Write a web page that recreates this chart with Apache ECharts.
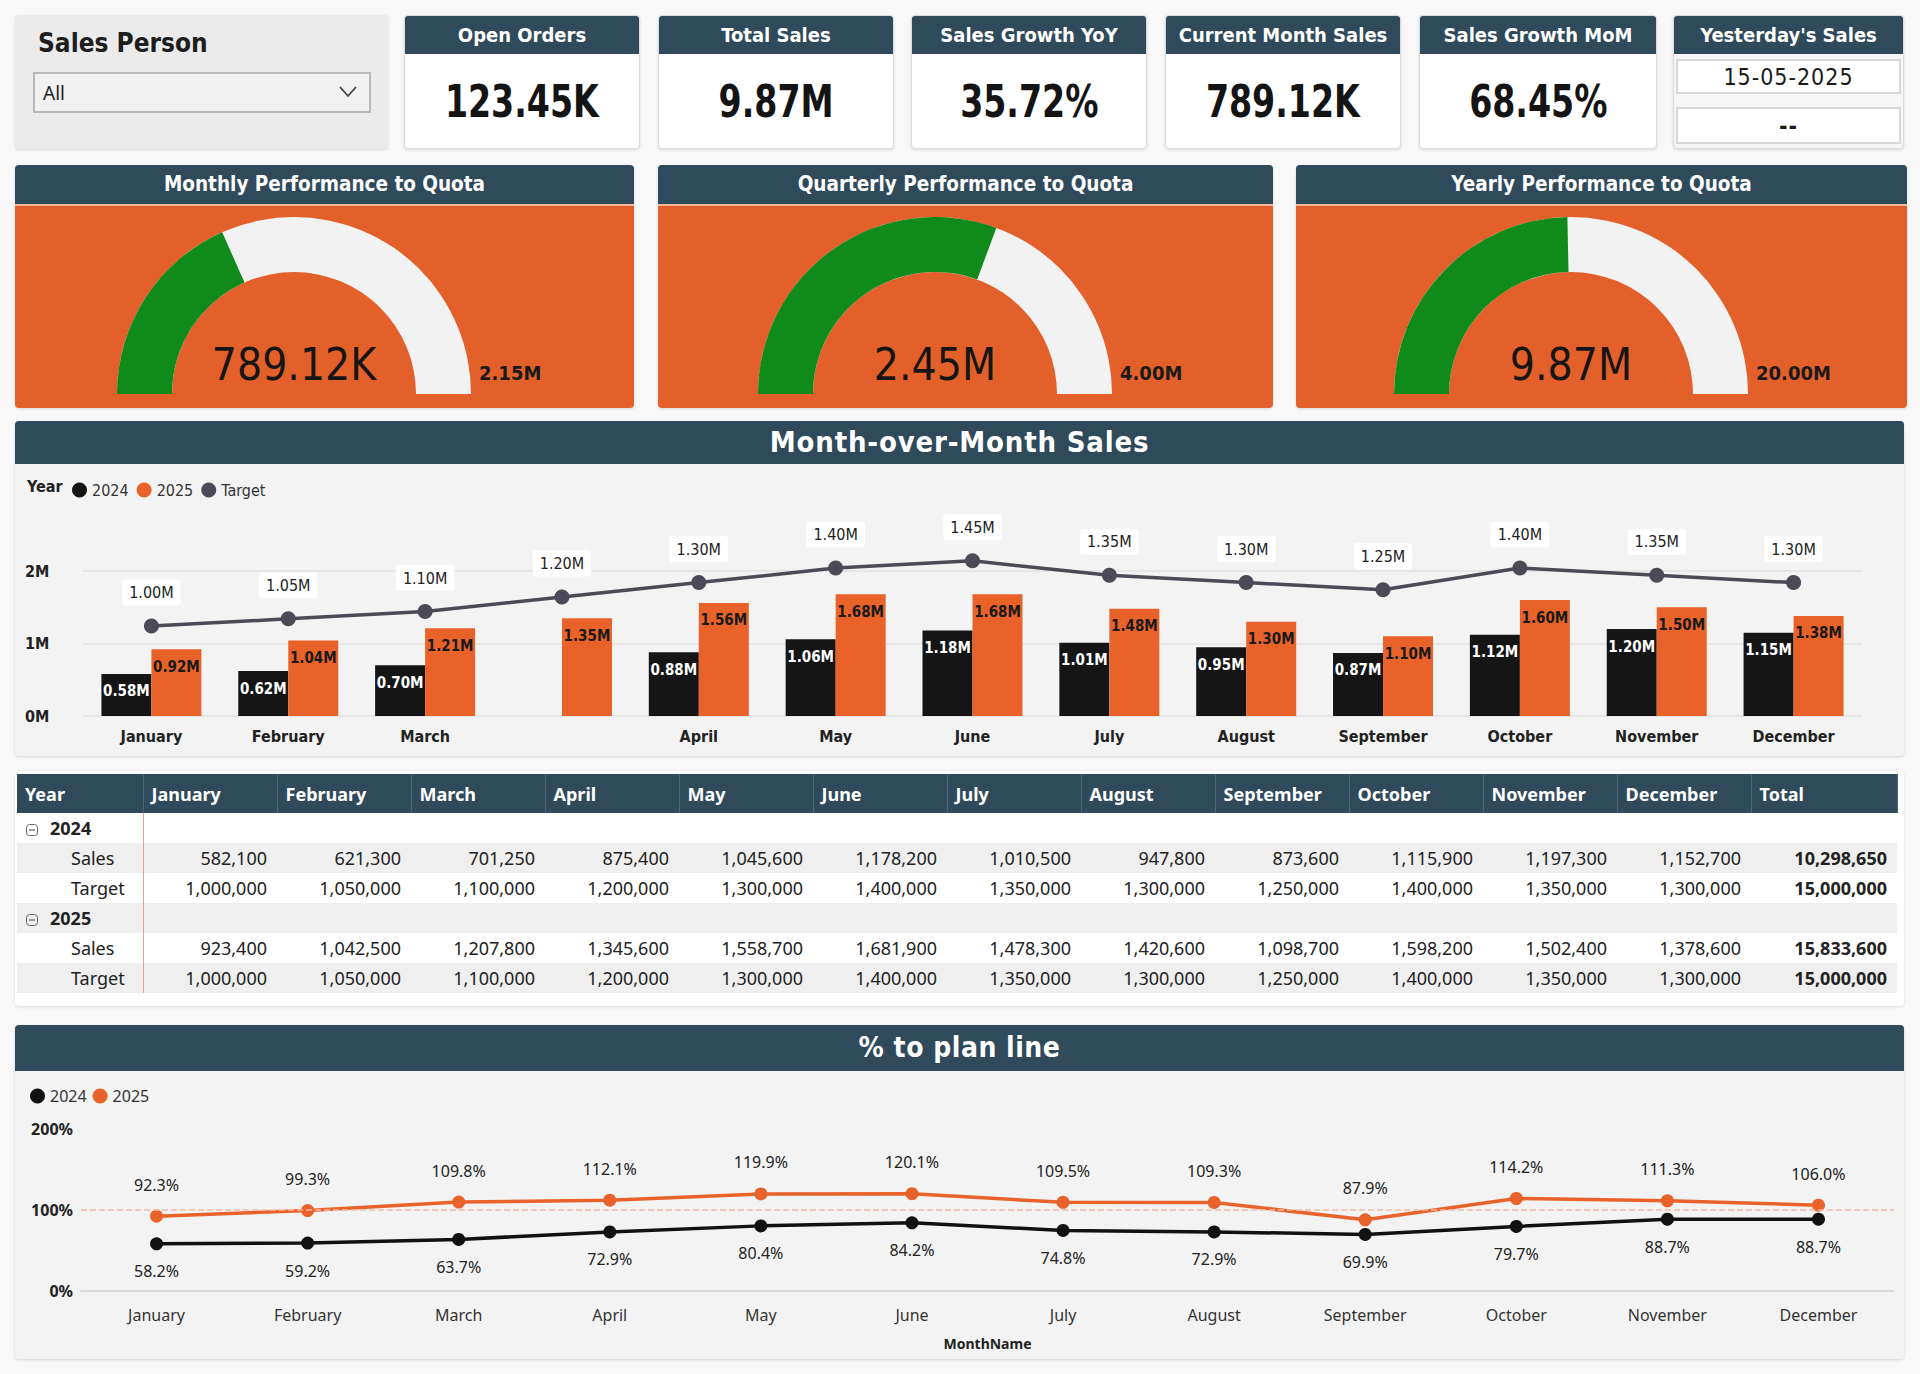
<!DOCTYPE html>
<html>
<head>
<meta charset="utf-8">
<title>Sales Dashboard</title>
<script src="https://cdn.jsdelivr.net/npm/echarts@6.0.0/dist/echarts.min.js"></script>
<style>
  html, body { margin: 0; padding: 0; }
  body { width: 1920px; height: 1374px; background: #F8F8F8; position: relative; overflow: hidden;
         font-family: 'DejaVu Sans Condensed', sans-serif; }
  .abs { position: absolute; box-sizing: border-box; }
  .card { background: #fff; border: 1px solid #DCDCDC; border-radius: 4px; box-shadow: 0 1px 3px rgba(0,0,0,0.12); overflow: hidden; }
  .hdr { background: #2F4A5B; color: #fff; font-weight: bold; text-align: center; white-space: nowrap; }
  .kpi-hdr { height: 38px; line-height: 38px; font-size: 20px; }
  .kpi-val { text-align: center; line-height: 96px; }
  .kpi-val span { display: inline-block; font-size: 45px; font-weight: bold; color: #141414; transform: scaleX(0.82); }
  .slicer { background: #EBEBEB; border-radius: 4px; box-shadow: 0 1px 3px rgba(0,0,0,0.12); }
  .slicer-title { position: absolute; left: 23px; top: 13px; font-size: 26px; font-weight: bold; color: #1E1E1E; }
  .dropdown { position: absolute; left: 18px; top: 57px; width: 338px; height: 41px; background: #F1F1F1;
              border: 2px solid #B9B9B9; box-sizing: border-box; font-family: 'Noto Sans', sans-serif; font-size: 19px; color: #222; }
  .dropdown span { position: absolute; left: 8px; top: 6px; }
  .dropdown svg { position: absolute; right: 12px; top: 11px; }
  .ybox { background: #fff; border: 2px solid #D8D8D8; text-align: center; font-size: 23px; color: #1a1a1a; letter-spacing: 1px; }
  .panel { background: #F3F3F3; border-radius: 4px; box-shadow: 0 1px 3px rgba(0,0,0,0.14); overflow: hidden; }
  .gauge-body { background: #E3602B; }
  table { border-collapse: collapse; table-layout: fixed; font-family: 'Noto Sans', 'Open Sans', sans-serif; font-size: 18px; color: #222; }
  th { background: #2F4A5B; color: #fff; font-weight: bold; text-align: left; padding: 0 0 0 8px; height: 39px;
       border-right: 1px solid #4C6676; font-size: 18px; }
  td { height: 30px; padding: 0 10px 0 0; text-align: right; white-space: nowrap; }
  td.rh { text-align: left; padding: 0; }
  td.sep { border-left: 1px solid #E9A27F; }
  .tot { font-weight: bold; }
</style>
</head>
<body>
<div class="abs slicer" style="left:15px;top:15px;width:373px;height:134px">
  <div class="slicer-title">Sales Person</div>
  <div class="dropdown"><span>All</span>
    <svg width="18" height="14" viewBox="0 0 18 14"><polyline points="1,2 9,11 17,2" fill="none" stroke="#444" stroke-width="1.8"/></svg>
  </div>
</div>
<div id="kpis"></div>
<div id="gauges"></div>

<div class="abs panel" style="left:15px;top:421px;width:1889px;height:335px">
  <div class="hdr" style="height:43px;line-height:43px;font-size:29px;letter-spacing:0.8px">Month-over-Month Sales</div>
  <div id="barChart" style="width:1889px;height:292px"></div>
</div>

<div class="abs card" style="left:15px;top:771px;width:1889px;height:235px;padding:3px 0 0 2px;border:none">
  <table id="tbl"></table>
</div>

<div class="abs panel" style="left:15px;top:1025px;width:1889px;height:334px">
  <div class="hdr" style="height:46px;line-height:46px;font-size:28px;letter-spacing:0.5px">% to plan line</div>
  <div id="lineChart" style="width:1889px;height:288px"></div>
</div>

<script>
// ---- KPI cards ----
const kpiTitles = ['Open Orders', 'Total Sales', 'Sales Growth YoY', 'Current Month Sales', 'Sales Growth MoM'];
const kpiValues = ['123.45K', '9.87M', '35.72%', '789.12K', '68.45%'];
const yesterdayTitle = "Yesterday's Sales";
const yesterdayDate = '15-05-2025';
const yesterdayValue = '--';

// ---- gauges ----
const gaugeTitles = ['Monthly Performance to Quota', 'Quarterly Performance to Quota', 'Yearly Performance to Quota'];
const gaugeValues = [789120, 2450000, 9870000];
const gaugeMax = [2150000, 4000000, 20000000];

// ---- month-over-month bars (as drawn, the 4th slot has no month label) ----
const barCategories = ['January', 'February', 'March', '', 'April', 'May', 'June', 'July', 'August', 'September', 'October', 'November', 'December'];
const bars2024 = [580000, 620000, 700000, null, 880000, 1060000, 1180000, 1010000, 950000, 870000, 1120000, 1200000, 1150000];
const bars2025 = [920000, 1040000, 1210000, 1350000, 1560000, 1680000, 1680000, 1480000, 1300000, 1100000, 1600000, 1500000, 1380000];
const barTarget = [1000000, 1050000, 1100000, 1200000, 1300000, 1400000, 1450000, 1350000, 1300000, 1250000, 1400000, 1350000, 1300000];

// ---- table ----
const months = ['January', 'February', 'March', 'April', 'May', 'June', 'July', 'August', 'September', 'October', 'November', 'December'];
const sales2024 = [582100, 621300, 701250, 875400, 1045600, 1178200, 1010500, 947800, 873600, 1115900, 1197300, 1152700];
const target2024 = [1000000, 1050000, 1100000, 1200000, 1300000, 1400000, 1350000, 1300000, 1250000, 1400000, 1350000, 1300000];
const sales2025 = [923400, 1042500, 1207800, 1345600, 1558700, 1681900, 1478300, 1420600, 1098700, 1598200, 1502400, 1378600];
const target2025 = [1000000, 1050000, 1100000, 1200000, 1300000, 1400000, 1350000, 1300000, 1250000, 1400000, 1350000, 1300000];
const totals2024 = [10298650, 15000000];
const totals2025 = [15833600, 15000000];

// ---- % to plan ----
const pct2024 = [58.2, 59.2, 63.7, 72.9, 80.4, 84.2, 74.8, 72.9, 69.9, 79.7, 88.7, 88.7];
const pct2025 = [92.3, 99.3, 109.8, 112.1, 119.9, 120.1, 109.5, 109.3, 87.9, 114.2, 111.3, 106.0];

const DIN = "'DejaVu Sans Condensed', sans-serif";
const SEG = "'Noto Sans', 'Open Sans', sans-serif";
const ORANGE = '#E8622A';
const fmtM = v => (v / 1e6).toFixed(2) + 'M';
const fmtKM = v => v >= 1e6 ? fmtM(v) : (v / 1e3).toFixed(2) + 'K';
const fmtN = v => v.toLocaleString('en-US');

// layout of the top row
const kpiLeft = [404, 658, 911, 1165, 1419];
const kpiWidth = [236, 236, 236, 236, 238];
let html = '';
kpiTitles.forEach(function (t, i) {
  html += '<div class="abs card" style="left:' + kpiLeft[i] + 'px;top:15px;width:' + kpiWidth[i] + 'px;height:134px">' +
    '<div class="hdr kpi-hdr">' + t + '</div><div class="kpi-val"><span>' + kpiValues[i] + '</span></div></div>';
});
html += '<div class="abs card" style="left:1673px;top:15px;width:231px;height:134px;background:#F6F6F6">' +
  '<div class="hdr kpi-hdr">' + yesterdayTitle + '</div>' +
  '<div class="abs ybox" style="left:2px;top:43px;width:225px;height:35px;line-height:32px">' + yesterdayDate + '</div>' +
  '<div class="abs ybox" style="left:2px;top:91px;width:225px;height:37px;line-height:34px;font-weight:bold">' + yesterdayValue + '</div></div>';
document.getElementById('kpis').innerHTML = html;

// gauges
const gLeft = [15, 658, 1296];
const gWidth = [619, 615, 611];
let gh = '';
gaugeTitles.forEach(function (t, i) {
  gh += '<div class="abs" style="left:' + gLeft[i] + 'px;top:165px;width:' + gWidth[i] + 'px;height:243px;border-radius:4px;overflow:hidden;box-shadow:0 1px 3px rgba(0,0,0,0.14)">' +
    '<div class="hdr" style="height:39px;line-height:39px;font-size:20.5px">' + t + '</div>' +
    '<div style="height:2px;background:#F4B79B"></div>' +
    '<div id="gauge' + i + '" class="gauge-body" style="width:' + gWidth[i] + 'px;height:202px"></div></div>';
});
document.getElementById('gauges').innerHTML = gh;

gaugeTitles.forEach(function (t, i) {
  const chart = echarts.init(document.getElementById('gauge' + i), null, { renderer: 'svg' });
  const cx = Math.round(gWidth[i] * 0.45);
  chart.setOption({
    animation: false,
    series: [{
      type: 'gauge',
      startAngle: 180, endAngle: 0,
      min: 0, max: gaugeMax[i],
      center: [cx, 188], radius: 177,
      axisLine: { lineStyle: { width: 55, color: [[1, '#F2F2F2']] } },
      progress: { show: true, width: 55, itemStyle: { color: '#108A1B' } },
      pointer: { show: false }, anchor: { show: false },
      axisTick: { show: false }, splitLine: { show: false }, axisLabel: { show: false },
      title: { show: false },
      detail: {
        offsetCenter: [0, -30], fontSize: 44, fontFamily: DIN, fontWeight: 'normal', color: '#161616',
        formatter: function (v) { return fmtKM(v); }
      },
      data: [{ value: gaugeValues[i] }]
    }],
    graphic: [{
      type: 'text', left: cx + 185, top: 157,
      style: { text: fmtM(gaugeMax[i]), font: 'bold 20px ' + DIN, fill: '#1a1a1a' }
    }]
  });
});

// month-over-month bar chart
const bar = echarts.init(document.getElementById('barChart'), null, { renderer: 'svg' });
bar.setOption({
  animation: false,
  textStyle: { fontFamily: DIN },
  graphic: [{ type: 'text', left: 12, top: 14, style: { text: 'Year', font: 'bold 16px ' + DIN, fill: '#222' } }],
  legend: {
    left: 52, top: 13, icon: 'circle', itemWidth: 15, itemHeight: 15, itemGap: 8,
    textStyle: { fontSize: 16, color: '#333', fontFamily: DIN },
    data: ['2024', '2025', 'Target']
  },
  grid: { left: 68, right: 42, top: 107, bottom: 40 },
  xAxis: {
    type: 'category', data: barCategories,
    axisLine: { show: false }, axisTick: { show: false },
    axisLabel: { fontWeight: 'bold', fontSize: 16, color: '#222', margin: 12, interval: 0 }
  },
  yAxis: [{
    type: 'value', min: 0, max: 2000000, interval: 1000000,
    axisLabel: { formatter: v => (v / 1e6) + 'M', fontWeight: 'bold', fontSize: 16, color: '#222', align: 'left', margin: 58 },
    splitLine: { lineStyle: { color: '#E2E2E2', width: 1.5 } }
  }, {
    type: 'value', min: 380000, max: 1380000, show: false, splitLine: { show: false }
  }],
  series: [{
    name: '2024', type: 'bar', data: bars2024, barWidth: 50, barGap: '0%',
    itemStyle: { color: '#151515' },
    label: { show: true, position: 'insideTop', distance: 10, color: '#fff', fontWeight: 'bold', fontSize: 15, formatter: p => fmtM(p.value) }
  }, {
    name: '2025', type: 'bar', data: bars2025, barWidth: 50,
    itemStyle: { color: ORANGE },
    label: { show: true, position: 'insideTop', distance: 10, color: '#1a1a1a', fontWeight: 'bold', fontSize: 15, formatter: p => fmtM(p.value) }
  }, {
    name: 'Target', type: 'line', yAxisIndex: 1, data: barTarget, clip: false,
    symbol: 'circle', symbolSize: 15,
    lineStyle: { color: '#4B4A56', width: 3.5 }, itemStyle: { color: '#4B4A56' },
    label: {
      show: true, position: 'top', distance: 13, backgroundColor: '#fff', padding: [5, 7], borderRadius: 3,
      color: '#222', fontSize: 16, formatter: p => fmtM(p.value)
    }
  }]
});

// table
const colW = [126].concat(months.map(() => 134)).concat([146]);
let th = '<colgroup>' + colW.map(w => '<col style="width:' + w + 'px">').join('') + '</colgroup>';
th += '<tr>' + ['Year'].concat(months).concat(['Total']).map(c => '<th>' + c + '</th>').join('') + '</tr>';
const icon = '<svg width="12" height="12" style="vertical-align:-1px;margin:0 12px 0 9px"><rect x="0.5" y="0.5" width="11" height="11" rx="3" fill="none" stroke="#666"/><line x1="3" y1="6" x2="9" y2="6" stroke="#444"/></svg>';
function groupRow(year, bg) {
  return '<tr style="background:' + bg + '"><td class="rh" style="font-weight:bold">' + icon + year + '</td><td class="sep" colspan="13"></td></tr>';
}
function dataRow(name, vals, total, bg) {
  let r = '<tr style="background:' + bg + '"><td class="rh" style="padding-left:54px">' + name + '</td>';
  vals.forEach(function (v, i) { r += '<td' + (i === 0 ? ' class="sep"' : '') + '>' + fmtN(v) + '</td>'; });
  return r + '<td class="tot">' + fmtN(total) + '</td></tr>';
}
th += groupRow('2024', '#FFFFFF');
th += dataRow('Sales', sales2024, totals2024[0], '#EFEFEF');
th += dataRow('Target', target2024, totals2024[1], '#FFFFFF');
th += groupRow('2025', '#EFEFEF');
th += dataRow('Sales', sales2025, totals2025[0], '#FFFFFF');
th += dataRow('Target', target2025, totals2025[1], '#EFEFEF');
document.getElementById('tbl').innerHTML = th;

// % to plan line chart
const line = echarts.init(document.getElementById('lineChart'), null, { renderer: 'svg' });
const pctLabel = p => p.value.toFixed(1) + '%';
line.setOption({
  animation: false,
  textStyle: { fontFamily: SEG },
  legend: {
    left: 10, top: 12, icon: 'circle', itemWidth: 15, itemHeight: 15, itemGap: 6,
    textStyle: { fontSize: 16, color: '#333', fontFamily: SEG }
  },
  grid: { left: 66, right: 10, top: 58, bottom: 68 },
  xAxis: {
    type: 'category', data: months,
    axisLine: { lineStyle: { color: '#DCDCDC', width: 2 } }, axisTick: { show: false },
    axisLabel: { fontSize: 16, color: '#333', margin: 16, interval: 0 },
    name: 'MonthName', nameLocation: 'middle', nameGap: 45,
    nameTextStyle: { fontWeight: 'bold', fontSize: 14, color: '#222' }
  },
  yAxis: {
    type: 'value', min: 0, max: 200, interval: 100,
    splitLine: { show: false },
    axisLabel: { formatter: '{value}%', fontWeight: 'bold', fontSize: 16, color: '#222', margin: 8 }
  },
  series: [{
    name: '2024', type: 'line', data: pct2024, color: '#111111',
    symbol: 'circle', symbolSize: 13, lineStyle: { width: 3.5 },
    label: { show: true, position: 'bottom', distance: 13, fontSize: 16, color: '#222', formatter: pctLabel }
  }, {
    name: '2025', type: 'line', data: pct2025, color: ORANGE,
    symbol: 'circle', symbolSize: 13, lineStyle: { width: 3.5 },
    label: { show: true, position: 'top', distance: 17, fontSize: 16, color: '#222', formatter: pctLabel },
    markLine: {
      silent: true, symbol: 'none', label: { show: false },
      lineStyle: { type: 'dashed', color: '#F3BCA6', width: 1.5 },
      data: [{ yAxis: 100 }]
    }
  }]
});
</script>
</body>
</html>
